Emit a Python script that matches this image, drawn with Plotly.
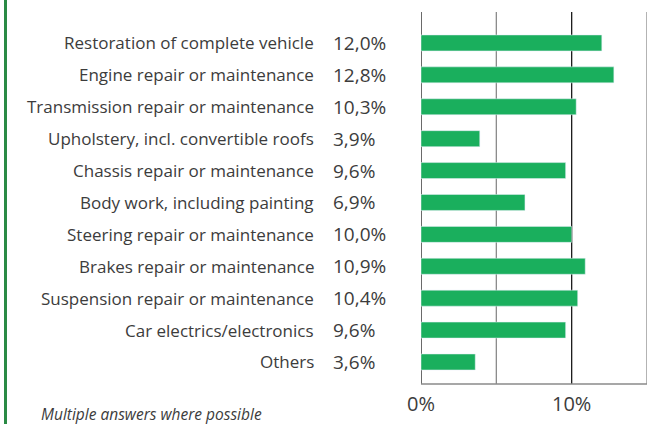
import plotly.graph_objects as go

# Survey answers (share of respondents, %)
categories = [
    "Restoration of complete vehicle",
    "Engine repair or maintenance",
    "Transmission repair or maintenance",
    "Upholstery, incl. convertible roofs",
    "Chassis repair or maintenance",
    "Body work, including painting",
    "Steering repair or maintenance",
    "Brakes repair or maintenance",
    "Suspension repair or maintenance",
    "Car electrics/electronics",
    "Others",
]
values = [12.0, 12.8, 10.3, 3.9, 9.6, 6.9, 10.0, 10.9, 10.4, 9.6, 3.6]
value_labels = [f"{v:.1f}%".replace(".", ",") for v in values]
tick_vals = [0, 10]
tick_text = ["0%", "10%"]

bar_green = "#1aaf5d"
text_grey = "#3c3c3c"
font_name = "Open Sans"

W, H = 650, 424
L, R, T, B = 421, 3, 12, 40
pw = W - L - R
ph = H - T - B

def px_to_paper(x):
    return (x - L) / pw

def py_to_paper(y):
    return (H - B - y) / ph

fig = go.Figure(go.Bar(
    x=values,
    y=categories,
    orientation="h",
    marker_color=bar_green,
    width=0.5,
    hoverinfo="skip",
))

# category labels and value labels left of the plot
for cat, lab in zip(categories, value_labels):
    fig.add_annotation(x=px_to_paper(316), xref="paper", y=cat, yref="y",
                       text=cat, showarrow=False, xanchor="right",
                       font=dict(family=font_name, size=17, color=text_grey))
    fig.add_annotation(x=px_to_paper(331), xref="paper", y=cat, yref="y",
                       text=lab, showarrow=False, xanchor="left",
                       font=dict(family=font_name, size=19, color=text_grey))

# vertical reference lines: black at 0 and 10, grey at 5 and 15
for xv, col in [(5, "#8a8a8a"), (15, "#8a8a8a"), (0, "#1a1a1a"), (10, "#1a1a1a")]:
    fig.add_shape(type="line", x0=xv, x1=xv, xref="x", y0=0, y1=1, yref="paper",
                  line=dict(color=col, width=1.3), layer="below")
fig.add_shape(type="line", x0=0, x1=15, xref="x", y0=0, y1=0, yref="paper",
              line=dict(color="#8a8a8a", width=1.3))

# green frame line on the left
fig.add_shape(type="line", x0=px_to_paper(5.5), x1=px_to_paper(5.5), xref="paper",
              y0=py_to_paper(430), y1=py_to_paper(-5), yref="paper",
              line=dict(color="#2a8a45", width=3))

fig.add_annotation(x=px_to_paper(39), xref="paper", y=py_to_paper(414), yref="paper",
                   text="<i>Multiple answers where possible</i>", showarrow=False,
                   xanchor="left", yanchor="middle",
                   font=dict(family=font_name, size=15.5, color=text_grey))

fig.update_layout(
    width=W, height=H,
    margin=dict(l=L, r=R, t=T, b=B),
    paper_bgcolor="white", plot_bgcolor="white",
    showlegend=False,
    xaxis=dict(range=[0, 15], tickvals=tick_vals, ticktext=tick_text,
               showgrid=False, zeroline=False, showline=False, ticks="",
               ticklabelstandoff=6,
               tickfont=dict(family=font_name, size=20, color=text_grey)),
    yaxis=dict(range=[10.69, -0.97], showticklabels=False, showgrid=False,
               zeroline=False, showline=False, ticks=""),
)

# drop the default body margin so the figure fills the window
fig.write_html("out.html", config={"displayModeBar": False},
               post_script="document.body.style.margin='0';")
